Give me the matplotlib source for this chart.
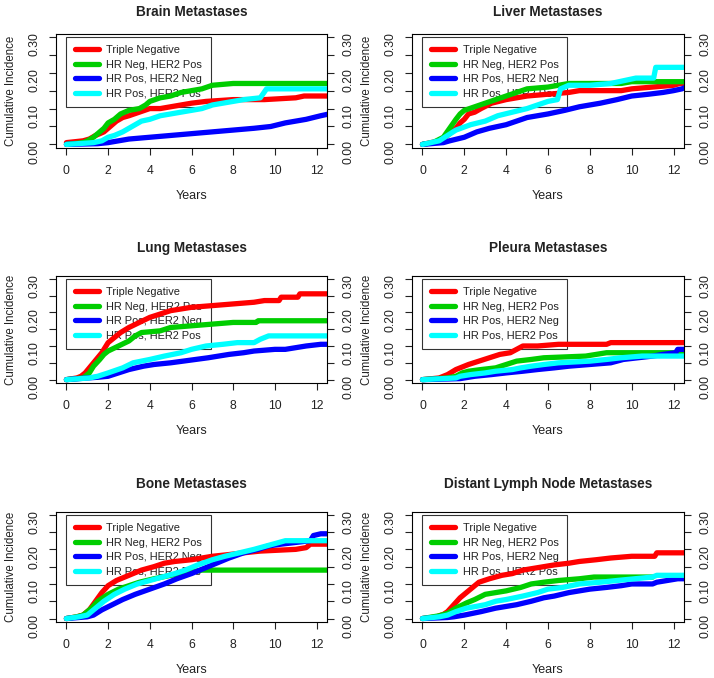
import matplotlib

matplotlib.use("Agg")
import matplotlib.pyplot as plt
import numpy as np

plt.rcParams["font.family"] = ["Liberation Sans", "DejaVu Sans"]

# ---- data: cumulative incidence curves --------------------------------------------
GROUPS = ["Triple Negative", "HR Neg, HER2 Pos", "HR Pos, HER2 Neg", "HR Pos, HER2 Pos"]
COLORS = ["#FF0000", "#00CD00", "#0000FF", "#00FFFF"]
TITLES = ["Brain Metastases", "Liver Metastases", "Lung Metastases",
          "Pleura Metastases", "Bone Metastases", "Distant Lymph Node Metastases"]

# Brain
brain_tn_t = [0, 0.8, 1.1, 1.4, 1.6, 1.8, 2.0, 2.2, 2.4, 2.7, 3.0, 3.5, 4.0, 4.5, 5.0, 5.5, 6.0, 6.7, 8.0, 9.5, 11.0, 11.4, 12.6]
brain_tn_y = [0.005, 0.01, 0.015, 0.025, 0.03, 0.035, 0.045, 0.055, 0.065, 0.075, 0.08, 0.09, 0.10, 0.10, 0.105, 0.11, 0.115, 0.12, 0.125, 0.125, 0.13, 0.135, 0.135]
brain_hn_t = [0, 0.8, 1.0, 1.3, 1.6, 1.8, 2.0, 2.3, 2.6, 3.0, 3.5, 3.8, 4.0, 4.5, 5.0, 5.5, 6.0, 6.5, 7.0, 8.0, 12.6]
brain_hn_y = [0, 0.005, 0.01, 0.02, 0.035, 0.045, 0.06, 0.07, 0.085, 0.095, 0.10, 0.11, 0.12, 0.13, 0.135, 0.145, 0.15, 0.155, 0.165, 0.17, 0.17]
brain_pn_t = [0, 1.5, 2.0, 2.5, 3.0, 4.0, 5.0, 6.0, 7.0, 8.0, 9.0, 9.8, 10.5, 11.5, 12.2, 12.6]
brain_pn_y = [0, 0.002, 0.005, 0.01, 0.015, 0.02, 0.025, 0.03, 0.035, 0.04, 0.045, 0.05, 0.06, 0.07, 0.08, 0.085]
brain_pp_t = [0, 1.3, 1.7, 2.0, 2.3, 2.7, 3.0, 3.3, 3.6, 4.0, 4.5, 5.0, 5.5, 6.0, 6.5, 7.0, 7.5, 8.0, 8.5, 9.3, 9.6, 12.6]
brain_pp_y = [0, 0.005, 0.01, 0.02, 0.025, 0.035, 0.045, 0.055, 0.065, 0.07, 0.08, 0.085, 0.09, 0.095, 0.10, 0.11, 0.115, 0.12, 0.125, 0.13, 0.155, 0.155]

# Liver
liver_tn_t = [0, 0.8, 1.1, 1.4, 1.6, 1.8, 2.0, 2.2, 2.5, 2.8, 3.3, 4.0, 4.5, 5.0, 6.0, 7.0, 7.5, 9.5, 10.0, 11.0, 12.0, 12.3, 12.6]
liver_tn_y = [0, 0.01, 0.02, 0.035, 0.045, 0.06, 0.07, 0.085, 0.09, 0.10, 0.115, 0.125, 0.13, 0.135, 0.14, 0.145, 0.15, 0.15, 0.155, 0.16, 0.165, 0.17, 0.17]
liver_hn_t = [0, 0.5, 1.0, 1.3, 1.6, 1.8, 2.0, 2.5, 3.0, 3.5, 4.0, 4.5, 5.0, 6.0, 6.5, 7.0, 9.5, 10.0, 12.6]
liver_hn_y = [0, 0.005, 0.02, 0.045, 0.07, 0.085, 0.095, 0.105, 0.115, 0.125, 0.135, 0.145, 0.155, 0.16, 0.165, 0.17, 0.17, 0.175, 0.175]
liver_pn_t = [0, 1.0, 1.3, 2.0, 2.6, 3.2, 4.0, 4.5, 5.0, 6.0, 6.8, 7.5, 8.5, 9.3, 10.0, 10.8, 11.5, 12.0, 12.4, 12.6]
liver_pn_y = [0, 0.005, 0.01, 0.02, 0.035, 0.045, 0.055, 0.065, 0.075, 0.085, 0.095, 0.105, 0.115, 0.125, 0.135, 0.14, 0.145, 0.15, 0.155, 0.16]
liver_pp_t = [0, 0.8, 1.2, 1.6, 2.3, 3.0, 3.6, 4.3, 5.0, 5.5, 6.0, 6.45, 6.6, 7.0, 8.0, 9.0, 9.8, 10.2, 11.05, 11.15, 12.6]
liver_pp_y = [0, 0.01, 0.025, 0.04, 0.055, 0.065, 0.08, 0.09, 0.10, 0.11, 0.12, 0.125, 0.155, 0.165, 0.165, 0.17, 0.18, 0.185, 0.185, 0.215, 0.215]

# Lung
lung_tn_t = [0, 0.5, 0.7, 0.9, 1.1, 1.3, 1.5, 1.7, 2.0, 2.3, 2.6, 3.0, 3.5, 4.0, 4.5, 5.0, 5.5, 6.0, 7.0, 8.0, 9.0, 9.5, 10.2, 10.3, 11.1, 11.2, 12.6]
lung_tn_y = [0, 0.005, 0.01, 0.02, 0.035, 0.05, 0.065, 0.08, 0.11, 0.125, 0.14, 0.155, 0.17, 0.185, 0.195, 0.205, 0.21, 0.215, 0.22, 0.225, 0.23, 0.235, 0.235, 0.245, 0.245, 0.255, 0.255]
lung_hn_t = [0, 0.8, 1.1, 1.3, 1.6, 1.8, 2.0, 2.5, 3.0, 3.3, 3.6, 4.5, 5.0, 6.0, 7.0, 8.0, 9.1, 9.2, 12.6]
lung_hn_y = [0, 0.005, 0.02, 0.04, 0.06, 0.075, 0.085, 0.10, 0.115, 0.13, 0.14, 0.145, 0.155, 0.16, 0.165, 0.17, 0.17, 0.175, 0.175]
lung_pn_t = [0, 1.0, 1.5, 2.0, 2.5, 3.0, 3.7, 4.2, 5.0, 5.6, 6.2, 6.8, 7.3, 7.8, 8.5, 9.0, 10.0, 10.5, 11.0, 11.5, 12.2, 12.6]
lung_pn_y = [0, 0.005, 0.007, 0.01, 0.02, 0.03, 0.04, 0.045, 0.05, 0.055, 0.06, 0.065, 0.07, 0.075, 0.08, 0.085, 0.09, 0.09, 0.095, 0.10, 0.105, 0.105]
lung_pp_t = [0, 1.1, 1.5, 2.0, 2.7, 3.2, 4.0, 4.7, 5.5, 6.0, 6.7, 7.5, 8.2, 9.0, 9.3, 9.7, 12.6]
lung_pp_y = [0, 0.005, 0.01, 0.02, 0.035, 0.05, 0.06, 0.07, 0.08, 0.09, 0.10, 0.105, 0.11, 0.11, 0.12, 0.13, 0.13]

# Pleura
pleura_tn_t = [0, 0.8, 1.0, 1.2, 1.6, 2.0, 2.2, 2.7, 3.2, 3.7, 4.2, 4.5, 4.8, 5.5, 6.5, 8.8, 9.0, 12.6]
pleura_tn_y = [0, 0.005, 0.01, 0.015, 0.03, 0.04, 0.045, 0.055, 0.065, 0.075, 0.08, 0.09, 0.10, 0.10, 0.105, 0.105, 0.11, 0.11]
pleura_hn_t = [0, 1.2, 1.6, 1.9, 2.2, 2.8, 3.5, 4.0, 4.5, 5.2, 5.8, 7.8, 8.3, 8.8, 12.6]
pleura_hn_y = [0, 0.005, 0.01, 0.02, 0.025, 0.03, 0.035, 0.045, 0.055, 0.06, 0.065, 0.07, 0.075, 0.08, 0.08]
pleura_pn_t = [0, 1.8, 2.0, 2.5, 3.3, 4.0, 4.8, 5.5, 6.3, 7.0, 8.0, 9.0, 9.6, 10.3, 11.0, 11.5, 12.1, 12.2, 12.6]
pleura_pn_y = [0, 0.003, 0.005, 0.01, 0.015, 0.02, 0.025, 0.03, 0.035, 0.04, 0.045, 0.05, 0.06, 0.065, 0.07, 0.075, 0.08, 0.09, 0.09]
pleura_pp_t = [0, 1.6, 1.8, 2.3, 3.0, 3.5, 4.3, 4.7, 5.2, 5.8, 6.5, 8.0, 8.8, 9.5, 10.5, 12.6]
pleura_pp_y = [0, 0.005, 0.01, 0.015, 0.02, 0.025, 0.03, 0.035, 0.04, 0.045, 0.05, 0.055, 0.06, 0.065, 0.07, 0.07]

# Bone
bone_tn_t = [0, 0.5, 0.8, 1.1, 1.4, 1.7, 2.0, 2.4, 3.0, 3.6, 4.2, 4.7, 5.2, 6.0, 6.5, 7.0, 7.8, 8.5, 9.3, 11.0, 11.5, 11.7, 12.6]
bone_tn_y = [0, 0.005, 0.01, 0.025, 0.05, 0.075, 0.095, 0.11, 0.125, 0.14, 0.15, 0.16, 0.165, 0.17, 0.175, 0.18, 0.185, 0.19, 0.195, 0.20, 0.205, 0.215, 0.215]
bone_hn_t = [0, 0.5, 0.8, 1.2, 1.5, 2.0, 2.5, 3.0, 3.5, 4.2, 5.0, 5.5, 6.0, 6.5, 12.6]
bone_hn_y = [0, 0.005, 0.01, 0.03, 0.05, 0.07, 0.085, 0.095, 0.105, 0.115, 0.125, 0.13, 0.135, 0.14, 0.14]
bone_pn_t = [0, 1.0, 1.3, 1.7, 2.2, 2.7, 3.3, 4.0, 4.7, 5.3, 6.0, 6.6, 7.2, 7.8, 8.5, 9.2, 9.7, 10.3, 11.0, 11.7, 11.85, 12.2, 12.6]
bone_pn_y = [0, 0.005, 0.01, 0.025, 0.04, 0.055, 0.07, 0.085, 0.10, 0.115, 0.13, 0.145, 0.16, 0.175, 0.19, 0.20, 0.21, 0.215, 0.22, 0.225, 0.24, 0.245, 0.245]
bone_pp_t = [0, 0.6, 1.0, 1.4, 1.8, 2.3, 2.8, 3.4, 4.0, 4.6, 5.2, 5.7, 6.3, 7.0, 7.6, 8.3, 9.0, 9.6, 10.2, 10.5, 12.6]
bone_pp_y = [0, 0.005, 0.01, 0.03, 0.05, 0.07, 0.085, 0.10, 0.11, 0.12, 0.13, 0.14, 0.155, 0.17, 0.18, 0.19, 0.20, 0.21, 0.22, 0.225, 0.225]

# Distant lymph node
lymph_tn_t = [0, 0.7, 0.8, 1.0, 1.2, 1.5, 1.8, 2.1, 2.4, 2.7, 3.2, 3.8, 4.3, 4.8, 5.3, 5.8, 6.3, 7.0, 7.5, 8.3, 9.0, 10.0, 11.1, 11.2, 12.6]
lymph_tn_y = [0, 0.005, 0.008, 0.012, 0.02, 0.04, 0.06, 0.075, 0.09, 0.105, 0.115, 0.125, 0.13, 0.14, 0.145, 0.15, 0.155, 0.16, 0.165, 0.17, 0.175, 0.18, 0.18, 0.19, 0.19]
lymph_hn_t = [0, 0.5, 0.8, 1.2, 1.6, 2.1, 2.5, 3.0, 3.5, 4.0, 4.7, 5.2, 5.8, 6.5, 7.5, 8.2, 11.0]
lymph_hn_y = [0, 0.005, 0.008, 0.015, 0.03, 0.045, 0.055, 0.07, 0.075, 0.08, 0.09, 0.10, 0.105, 0.11, 0.115, 0.12, 0.12]
lymph_pn_t = [0, 1.2, 1.5, 2.0, 2.8, 3.5, 4.0, 4.5, 5.2, 5.8, 6.3, 7.0, 7.5, 8.0, 8.8, 9.5, 10.0, 11.0, 11.2, 11.7, 12.2, 12.6]
lymph_pn_y = [0, 0.003, 0.005, 0.01, 0.02, 0.03, 0.035, 0.04, 0.05, 0.06, 0.065, 0.075, 0.08, 0.085, 0.09, 0.095, 0.10, 0.10, 0.105, 0.11, 0.115, 0.115]
lymph_pp_t = [0, 0.8, 1.2, 1.6, 2.1, 3.0, 3.5, 4.0, 4.8, 5.5, 6.0, 6.7, 7.5, 8.5, 9.3, 11.0, 11.2, 12.6]
lymph_pp_y = [0, 0.005, 0.01, 0.02, 0.03, 0.04, 0.05, 0.055, 0.065, 0.075, 0.085, 0.09, 0.10, 0.105, 0.11, 0.12, 0.125, 0.125]

PANELS = [
    [(brain_tn_t, brain_tn_y), (brain_hn_t, brain_hn_y), (brain_pn_t, brain_pn_y), (brain_pp_t, brain_pp_y)],
    [(liver_tn_t, liver_tn_y), (liver_hn_t, liver_hn_y), (liver_pn_t, liver_pn_y), (liver_pp_t, liver_pp_y)],
    [(lung_tn_t, lung_tn_y), (lung_hn_t, lung_hn_y), (lung_pn_t, lung_pn_y), (lung_pp_t, lung_pp_y)],
    [(pleura_tn_t, pleura_tn_y), (pleura_hn_t, pleura_hn_y), (pleura_pn_t, pleura_pn_y), (pleura_pp_t, pleura_pp_y)],
    [(bone_tn_t, bone_tn_y), (bone_hn_t, bone_hn_y), (bone_pn_t, bone_pn_y), (bone_pp_t, bone_pp_y)],
    [(lymph_tn_t, lymph_tn_y), (lymph_hn_t, lymph_hn_y), (lymph_pn_t, lymph_pn_y), (lymph_pp_t, lymph_pp_y)],
]

YTICKS = [0.0, 0.05, 0.10, 0.15, 0.20, 0.25, 0.30]
YTICKLABELS = ["0.00", "", "0.10", "", "0.20", "", "0.30"]
XTICKS = [0, 2, 4, 6, 8, 10, 12]

W, H = 714, 678
COLS = [(56, 327), (412, 684)]
ROWS = [(34, 148), (276, 383), (512, 622)]
TITLE_PAD = [13, 17, 17]
INK = "#222222"

fig = plt.figure(figsize=(W / 100, H / 100), dpi=100)

for i, (title, curves) in enumerate(zip(TITLES, PANELS)):
    r, c = divmod(i, 2)
    (x0, x1), (y0, y1) = COLS[c], ROWS[r]
    ax = fig.add_axes([x0 / W, 1 - y1 / H, (x1 - x0) / W, (y1 - y0) / H])

    handles = []
    for (t, y), col, lab in zip(curves, COLORS, GROUPS):
        ln, = ax.plot(t, y, color=col, lw=3.8, solid_capstyle="round",
                      solid_joinstyle="round", label=lab, zorder=2)
        handles.append(ln)

    ax.set_xlim(-0.5, 12.5)
    ax.set_ylim(-0.01, 0.308)
    ax.set_xticks(XTICKS)
    ax.set_yticks(YTICKS)
    ax.set_yticklabels(YTICKLABELS)
    ax.tick_params(axis="both", direction="out", length=5, width=0.8, labelsize=8.8, colors=INK)
    ax.tick_params(axis="y", right=True, labelright=True, labelrotation=90, pad=6)
    ax.tick_params(axis="x", pad=7)
    for sp in ax.spines.values():
        sp.set_linewidth(0.8)

    ax.set_title(title, fontsize=9.8, fontweight="bold", pad=TITLE_PAD[r], color=INK)
    ax.set_xlabel("Years", fontsize=9, va="center", color=INK)
    ax.xaxis.set_label_coords(0.5, -48 / (y1 - y0))
    ax.set_ylabel("Cumulative Incidence", fontsize=8.3, va="center", color=INK)
    ax.yaxis.set_label_coords(-45 / (x1 - x0), 0.5)

    leg = ax.legend(handles=handles, loc="upper left", bbox_to_anchor=(0, 0.30),
                    bbox_transform=ax.transData, borderaxespad=0, fontsize=7.9,
                    handlelength=2.2, handletextpad=0.7, labelspacing=0.42, borderpad=0.75,
                    fancybox=False, edgecolor="black", facecolor="none", framealpha=None)
    leg.get_frame().set_linewidth(0.8)
    for h in leg.legend_handles:
        h.set_linewidth(3.8)
    for txt in leg.get_texts():
        txt.set_color(INK)
    leg.set_zorder(1)

fig.savefig("out.png", dpi=100)
